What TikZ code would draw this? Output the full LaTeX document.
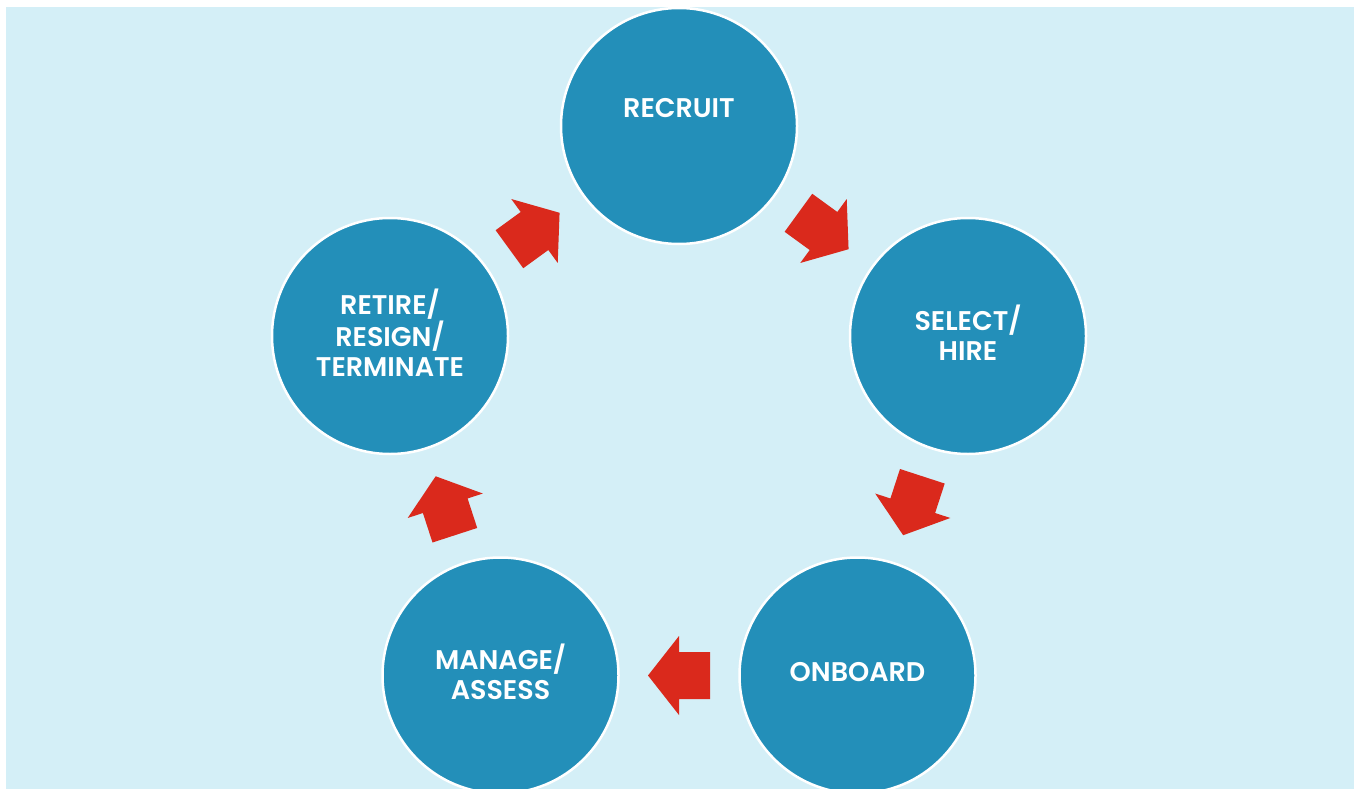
\documentclass[tikz,border=0pt]{standalone}
\usepackage{fontspec}
\setmainfont{Poppins}[UprightFont=*-SemiBold]
\usetikzlibrary{calc}
\definecolor{panelblue}{HTML}{D4EFF7}
\definecolor{stageblue}{HTML}{238FB9}
\definecolor{cyclered}{HTML}{DA291C}
\tikzset{
  stage/.style={circle, fill=stageblue, draw=white, line width=2.5pt,
    minimum size=236pt, inner sep=0pt, text=white, align=center,
    text depth=7pt, font=\fontsize{27}{30}\selectfont},
}
% block arrow centred between two stage circles, pointing to the second one
\newcommand\cyclearrow[2]{%
  \coordinate (m) at ($(#1)!0.5!(#2)$);
  \coordinate (s) at ($(m)!-31pt!(#2)$);
  \fill[cyclered] ($(m)!31pt!(#2)$) -- ($(m)!39.5pt!90:(#2)$)
    -- ($(m)!23.5pt!90:(#2)$) -- ($(s)!23.5pt!90:(m)$)
    -- ($(s)!23.5pt!-90:(m)$) -- ($(m)!23.5pt!-90:(#2)$)
    -- ($(m)!39.5pt!-90:(#2)$) -- cycle;}
\begin{document}
\begin{tikzpicture}[x=1pt,y=-1pt]
  \useasboundingbox (0,0) rectangle (1354,789);
  \fill[panelblue] (6,7) rectangle (1354,789);
  \node[stage] (rec) at (679,126) {RECRUIT\\ ~};
  \node[stage] (sel) at (968,336) {SELECT/\\HIRE};
  \node[stage] (onb) at (857.5,675.5) {ONBOARD};
  \node[stage] (man) at (500.5,675.5) {MANAGE/\\ASSESS};
  \node[stage] (ret) at (390,336) {RETIRE/\\RESIGN/\\TERMINATE};
  \cyclearrow{rec}{sel}
  \cyclearrow{sel}{onb}
  \cyclearrow{onb}{man}
  \cyclearrow{man}{ret}
  \cyclearrow{ret}{rec}
\end{tikzpicture}
\end{document}
